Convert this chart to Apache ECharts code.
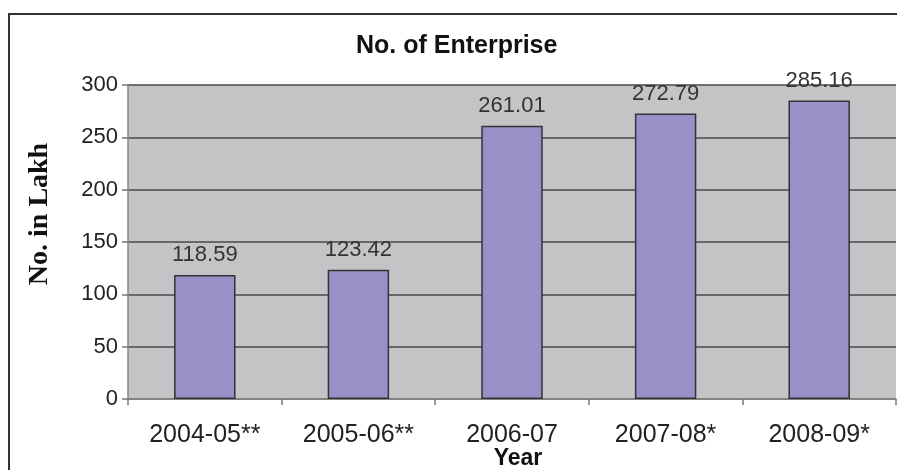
<!DOCTYPE html>
<html>
<head>
<meta charset="utf-8">
<style>
  html, body { margin: 0; padding: 0; background: #fff; }
  #chart { width: 897px; height: 470px; }
</style>
<script src="https://cdn.jsdelivr.net/npm/echarts@6/dist/echarts.min.js"></script>
</head>
<body>
<div id="chart"></div>
<script>
// 数据
const years = ['2004-05**', '2005-06**', '2006-07', '2007-08*', '2008-09*']
const enterprises = [118.59, 123.42, 261.01, 272.79, 285.16]
const yTicks = [0, 50, 100, 150, 200, 250, 300]

const chart = echarts.init(document.getElementById('chart'))

chart.setOption({
  backgroundColor: '#ffffff',
  textStyle: { fontFamily: 'Liberation Sans, Arial, sans-serif' },
  title: {
    text: 'No. of Enterprise',
    left: 351,
    top: 29,
    textStyle: { fontSize: 25, fontWeight: 'bold', color: '#111' }
  },
  // 外框
  graphic: [{
    type: 'rect',
    shape: { x: 9, y: 14, width: 900, height: 470 },
    style: { fill: null, stroke: '#333', lineWidth: 2 },
    silent: true
  }],
  grid: {
    left: 128,
    right: 1,
    top: 85,
    bottom: 71,
    outerBoundsMode: 'none',
    show: true,
    backgroundColor: '#c4c4c6',
    borderWidth: 0
  },
  xAxis: {
    type: 'category',
    data: years,
    name: 'Year',
    nameLocation: 'middle',
    nameGap: 48,
    nameMoveOverlap: false,
    nameTextStyle: { fontSize: 23, fontWeight: 'bold', color: '#111', padding: [0, 0, 0, 12] },
    axisLine: { lineStyle: { color: '#888', width: 1.5 } },
    axisTick: { show: true, alignWithLabel: false, length: 6, lineStyle: { color: '#777', width: 1.5 } },
    axisLabel: { fontSize: 25, color: '#222', margin: 24 }
  },
  yAxis: {
    type: 'value',
    min: yTicks[0],
    max: yTicks[yTicks.length - 1],
    interval: 50,
    name: 'No. in Lakh',
    nameLocation: 'middle',
    nameGap: 74,
    nameTextStyle: {
      fontFamily: 'Liberation Serif, Times New Roman, serif',
      fontSize: 28,
      fontWeight: 'bold',
      color: '#111',
      padding: [0, 0, 0, 56]
    },
    axisLine: { show: true, lineStyle: { color: '#888', width: 1.5 } },
    axisTick: { show: true, length: 6, lineStyle: { color: '#777', width: 1.5 } },
    axisLabel: { fontSize: 22, color: '#222', margin: 10 },
    splitLine: { lineStyle: { color: '#4a4a4a', width: 1.5 } }
  },
  series: [{
    type: 'bar',
    data: enterprises,
    barWidth: '40%',
    itemStyle: { color: '#9b8fc7', borderColor: '#333', borderWidth: 1.5 },
    label: {
      show: true,
      position: 'top',
      distance: 9,
      fontSize: 22,
      color: '#333',
      formatter: p => p.value.toFixed(2)
    }
  }]
})
</script>
</body>
</html>
